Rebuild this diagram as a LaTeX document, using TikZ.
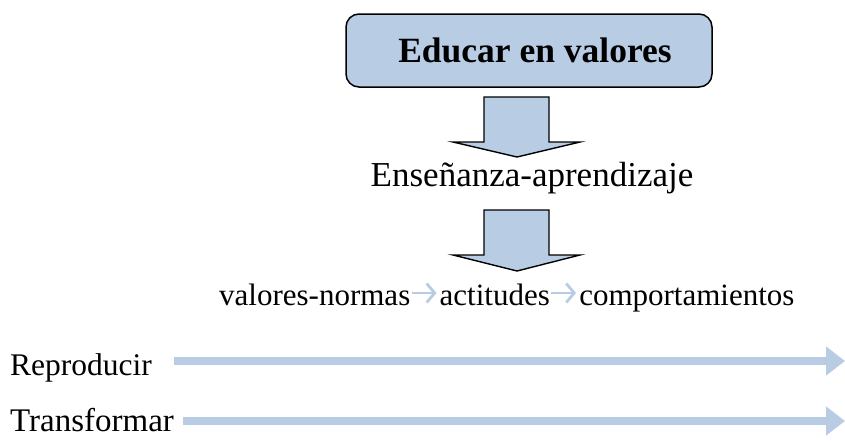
\documentclass[tikz,border=0pt]{standalone}
\usepackage{fontspec}
\setmainfont{Liberation Serif}
\usetikzlibrary{positioning,calc,arrows.meta}
\definecolor{paleblue}{HTML}{B8CCE4}
\tikzset{
  txt/.style={inner sep=0pt,font=\fontsize{32}{38}\selectfont},
  titlebox/.style={draw,line width=1.5pt,fill=paleblue,rounded corners=13pt,
    minimum width=366pt,minimum height=73pt,inner sep=0pt,
    font=\fontsize{35.5}{42}\selectfont\bfseries},
  bigarrow/.style={draw,line width=1.4pt,fill=paleblue,line join=miter},
  smallarrow/.style={paleblue,line width=2.8pt,-{Straight Barb[length=8pt,width=19pt,line width=2.8pt]}},
  longarrow/.style={paleblue,line width=7.5pt,-{Triangle[length=19pt,width=28pt]}}
}
\begin{document}
\begin{tikzpicture}[x=1pt,y=-1pt]
\useasboundingbox (0,0) rectangle (845,440);
% title and the two block arrows
\node[titlebox] (title) at (529,50.5){\hspace*{12pt}Educar en valores};
\node[txt,anchor=base,font=\fontsize{35}{40}\selectfont] (ens) at (532,186){Enseñanza-aprendizaje};
\coordinate (a1) at (517,97);
\coordinate (a2) at (517,210);
\draw[bigarrow] (a1) ++(-33,0) -- ++(65,0) -- ++(0,45) -- ++(31,0) -- (517,157) -- (453,142) -- ++(31,0) -- cycle;
\draw[bigarrow] (a2) ++(-33,0) -- ++(65,0) -- ++(0,45) -- ++(31,0) -- (517,271) -- (453,255) -- ++(31,0) -- cycle;
% chain of the three terms
\tikzset{txt/.append style={font=\fontsize{31}{38}\selectfont}}
\node[txt,anchor=base west] (vn) at (219,305){valores-normas};
\node[txt,anchor=base west] (act) at ($(vn.base east)+(29,0)$){actitudes};
\node[txt,anchor=base west] (comp) at ($(act.base east)+(29,0)$){comportamientos};
\draw[smallarrow] ($(vn.base east)+(1,-12)$) -- ($(act.base west)+(-3,-12)$);
\draw[smallarrow] ($(act.base east)+(1,-12)$) -- ($(comp.base west)+(-3,-12)$);
% the two long arrows
\node[txt,anchor=base west,font=\fontsize{31.5}{38}\selectfont] (rep) at (10,375){Reproducir};
\node[txt,anchor=base west,font=\fontsize{33}{40}\selectfont] (tra) at (10,431.5){Transformar};
\coordinate (repend) at (845,361);
\coordinate (traend) at (845,421);
\draw[longarrow] ($(rep.base east)+(22,-14)$) -- (repend);
\draw[longarrow] ($(tra.base east)+(9,-10.5)$) -- (traend);
\end{tikzpicture}
\end{document}
